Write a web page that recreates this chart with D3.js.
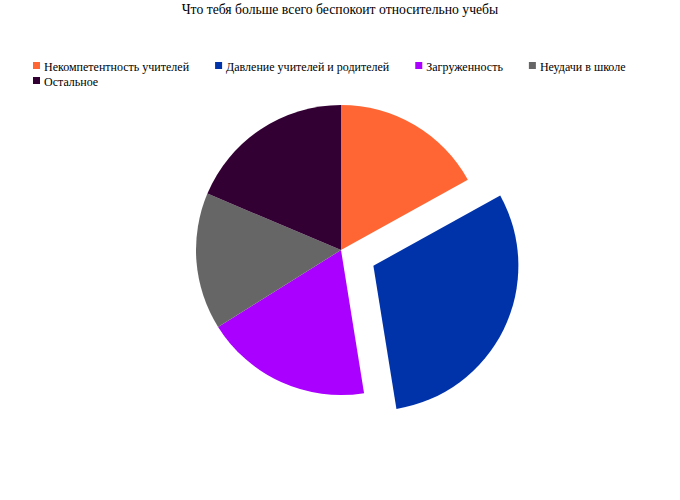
<!DOCTYPE html>
<html>
<head>
<meta charset="utf-8">
<script src="https://cdn.jsdelivr.net/npm/d3@7"></script>
<style>
  body { margin: 0; background: #fff; }
</style>
</head>
<body>
<div id="chart"></div>
<script>
const title = "Что тебя больше всего беспокоит относительно учебы";
const categories = ["Некомпетентность учителей", "Давление учителей и родителей", "Загруженность", "Неудачи в школе", "Остальное"];
const values = [10, 18, 11, 9, 11];
const colors = ["#ff6633", "#0033aa", "#aa00ff", "#666666", "#330033"];
const exploded = [false, true, false, false, false];

const width = 680, height = 500;
const cx = 341, cy = 250, radius = 145, explode = 36;
const serif = "'Liberation Serif', 'Times New Roman', serif";

const svg = d3.select("#chart").append("svg")
  .attr("width", width)
  .attr("height", height)
  .style("display", "block");

svg.append("text")
  .attr("x", width / 2)
  .attr("y", 14)
  .attr("text-anchor", "middle")
  .attr("font-family", serif)
  .attr("font-size", 13.7)
  .text(title);

// legend, flowed left to right and wrapped
const legend = svg.append("g");
let lx = 33, ly = 62;
categories.forEach((name, i) => {
  const item = legend.append("g");
  item.append("rect")
    .attr("width", 7).attr("height", 7)
    .attr("fill", colors[i]);
  const t = item.append("text")
    .attr("x", 11).attr("y", 8.5)
    .attr("font-family", serif)
    .attr("font-size", 12)
    .text(name);
  const w = 11 + t.node().getComputedTextLength();
  if (lx + w > width - 20) { lx = 33; ly += 15; }
  item.attr("transform", `translate(${lx},${ly})`);
  lx += w + 26;
});

const pie = d3.pie().sort(null).value(d => d)(values);
const arc = d3.arc().innerRadius(0).outerRadius(radius);

const g = svg.append("g").attr("transform", `translate(${cx},${cy})`);
g.selectAll("path")
  .data(pie)
  .enter()
  .append("path")
    .attr("d", arc)
    .attr("fill", (d, i) => colors[i])
    .attr("transform", (d, i) => {
      if (!exploded[i]) return null;
      const a = (d.startAngle + d.endAngle) / 2;
      return `translate(${Math.sin(a) * explode},${-Math.cos(a) * explode})`;
    });
</script>
</body>
</html>
